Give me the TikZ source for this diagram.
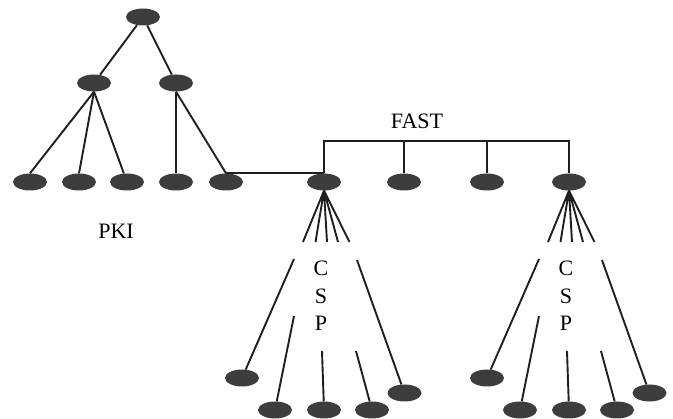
\documentclass[tikz,border=0pt]{standalone}
\usepackage{fontspec}
\setmainfont{Liberation Serif}
\usetikzlibrary{shapes.geometric,calc}

\begin{document}
\begin{tikzpicture}[x=1pt,y=-1pt,
  dot/.style={ellipse,fill=black!76,minimum width=34pt,minimum height=17pt,inner sep=0pt},
  ln/.style={line width=1.9pt,draw=black!88},
  lbl/.style={font=\fontsize{22}{27.5}\selectfont,inner sep=0pt}]
\useasboundingbox (0,0) rectangle (673,419);

% PKI tree
\node[dot] (root) at (143,17) {};
\node[dot] (l) at (94,83) {};
\node[dot] (r) at (176,83) {};
\node[dot] (p1) at (30,182) {};
\node[dot] (p2) at (79,182) {};
\node[dot] (p3) at (127,182) {};
\node[dot] (p4) at (176,182) {};
\node[dot] (p5) at (226,182) {};
\draw[ln] (root) -- (l);
\draw[ln] (root) -- (r);
\draw[ln] (l.south) -- (p1.north);
\draw[ln] (l.south) -- (p2.north);
\draw[ln] (l.south) -- (p3);
\draw[ln] (r.south) -- (p4.north);
\draw[ln] (r.south) -- (p5.north);
\node[lbl] (pki) at (116,231) {PKI};

% FAST bus
\node[dot] (f1) at (324,182) {};
\node[dot] (f2) at (404,182) {};
\node[dot] (f3) at (487,182) {};
\node[dot] (f4) at (569,182) {};
\coordinate (bus) at (324,141);
\draw[ln] (f1.north) -- (f1 |- bus) -- (f4 |- bus) -- (f4.north);
\draw[ln] (f2.north) -- (f2 |- bus);
\draw[ln] (f3.north) -- (f3 |- bus);
\draw[ln] (p5.north) -- (f1.north);
\node[lbl] (fast) at (417,121) {FAST};

% CSP fans below f1 and f4
\foreach \f/\px/\g in {f1/324/c,f4/569/d} {
  \begin{scope}[xshift=\px]
    \foreach \dx [count=\i] in {-21,-8.5,3,14,25.5} {
      \coordinate (\g-e\i) at (\dx,242);
      \draw[ln] (\f.south) -- (\g-e\i);
    }
    \fill[black!88] (\f.south) -- ($(\f.south)!0.2!(\g-e1)$) -- ($(\f.south)!0.2!(\g-e5)$) -- cycle;
    \foreach \dx/\dy/\sx/\sy [count=\i] in {-82/378/-30/259,-49/410/-30/316,0/410/-2/351,48/410/32/351,80.5/393/33/260} {
      \node[dot] (\g\i) at (\dx,\dy) {};
      \coordinate (\g-s\i) at (\sx,\sy);
      \draw[ln] (\g-s\i) -- (\g\i);
    }
    \node[lbl,align=center] (\g-csp) at (-3,296) {C\\S\\P};
  \end{scope}
}
\end{tikzpicture}
\end{document}
